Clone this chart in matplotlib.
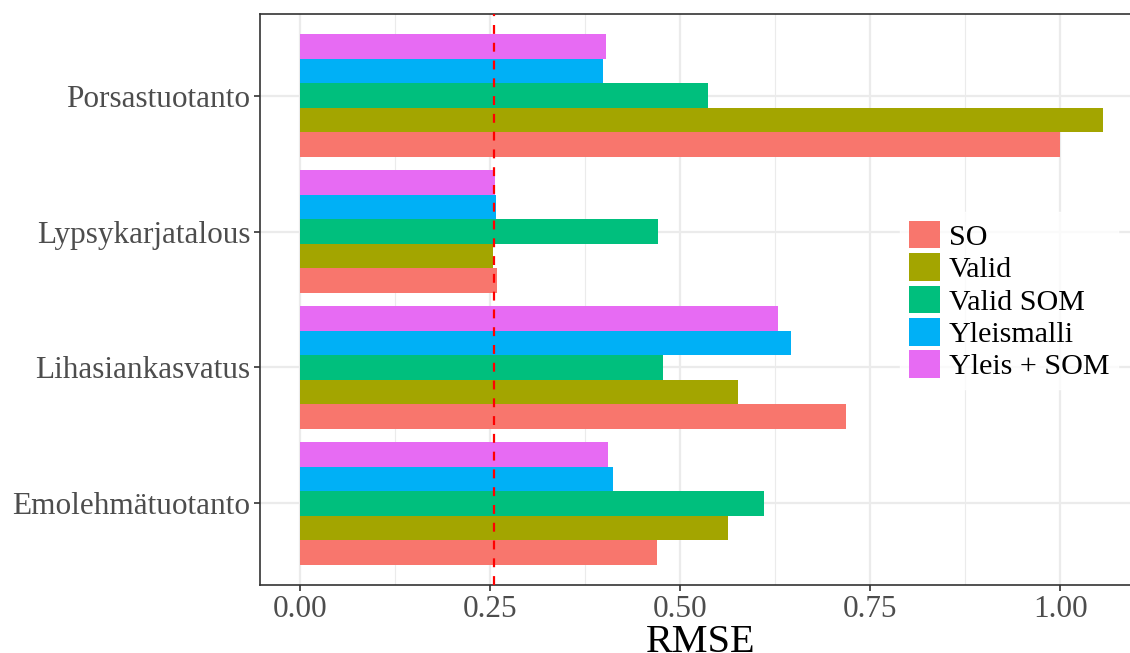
import numpy as np
import matplotlib
matplotlib.use('Agg')
import matplotlib.pyplot as plt

plt.rcParams['font.family'] = ['Liberation Serif', 'DejaVu Serif']

categories = ['Emolehmätuotanto', 'Lihasiankasvatus', 'Lypsykarjatalous', 'Porsastuotanto']
series = ['SO', 'Valid', 'Valid SOM', 'Yleismalli', 'Yleis + SOM']
colors = ['#F8766D', '#A3A500', '#00BF7D', '#00B0F6', '#E76BF3']

so = [0.470, 0.718, 0.259, 1.000]
valid = [0.563, 0.576, 0.254, 1.057]
valid_som = [0.611, 0.478, 0.471, 0.537]
yleismalli = [0.412, 0.646, 0.258, 0.399]
yleis_som = [0.405, 0.629, 0.257, 0.403]
values = [so, valid, valid_som, yleismalli, yleis_som]

ref_line = 0.255
xticks = [0.0, 0.25, 0.5, 0.75, 1.0]
xticklabels = ['0.00', '0.25', '0.50', '0.75', '1.00']

fig = plt.figure(figsize=(11.3, 6.53), dpi=100)
W, H = 1130, 653
# panel runs past the right edge of the picture, so no right border shows
ax = fig.add_axes([260 / W, (H - 585) / H, 1 - 260 / W, (585 - 14) / H])

y = np.arange(1, len(categories) + 1)
bw = 0.9 / len(series)
for i, (name, vals) in enumerate(zip(series, values)):
    ax.barh(y - 0.45 + bw * (i + 0.5), vals, height=bw, color=colors[i], label=name, zorder=2)

ax.axvline(ref_line, color='red', linestyle=(0, (4, 4)), linewidth=1.6, zorder=3)

ax.set_xlim(-0.0526, 1.092)
ax.set_ylim(0.4, 4.6)
ax.set_yticks(y)
ax.set_yticklabels(categories)
ax.set_xticks(xticks)
ax.set_xticklabels(xticklabels)
ax.set_xticks([0.125, 0.375, 0.625, 0.875], minor=True)

ax.grid(True, which='major', color='#EBEBEB', linewidth=1.6, zorder=0)
ax.grid(True, which='minor', axis='x', color='#EBEBEB', linewidth=0.8, zorder=0)
ax.set_axisbelow(True)

for s in ax.spines.values():
    s.set_color('#333333')
    s.set_linewidth(1.2)
ax.spines['right'].set_visible(False)

ax.tick_params(axis='both', which='major', colors='#333333', labelcolor='#4D4D4D',
               labelsize=22.5, length=4, width=1.2, pad=3)
ax.tick_params(axis='both', which='minor', length=0)
ax.set_xlabel('RMSE', fontsize=29, labelpad=0)
# centre of the full (cropped) panel, not the visible part
ax.xaxis.set_label_coords(0.507, -0.068)

leg = ax.legend(loc='upper left', bbox_to_anchor=(900 / W, (H - 212) / H),
                bbox_transform=fig.transFigure, fontsize=21.6, frameon=True,
                fancybox=False, borderpad=0.3, handlelength=1.03, handleheight=1.03,
                handletextpad=0.3, labelspacing=0.08, borderaxespad=0)
leg.get_frame().set_facecolor('white')
leg.get_frame().set_edgecolor('white')
leg.set_zorder(5)

fig.savefig('out.png', dpi=100)
